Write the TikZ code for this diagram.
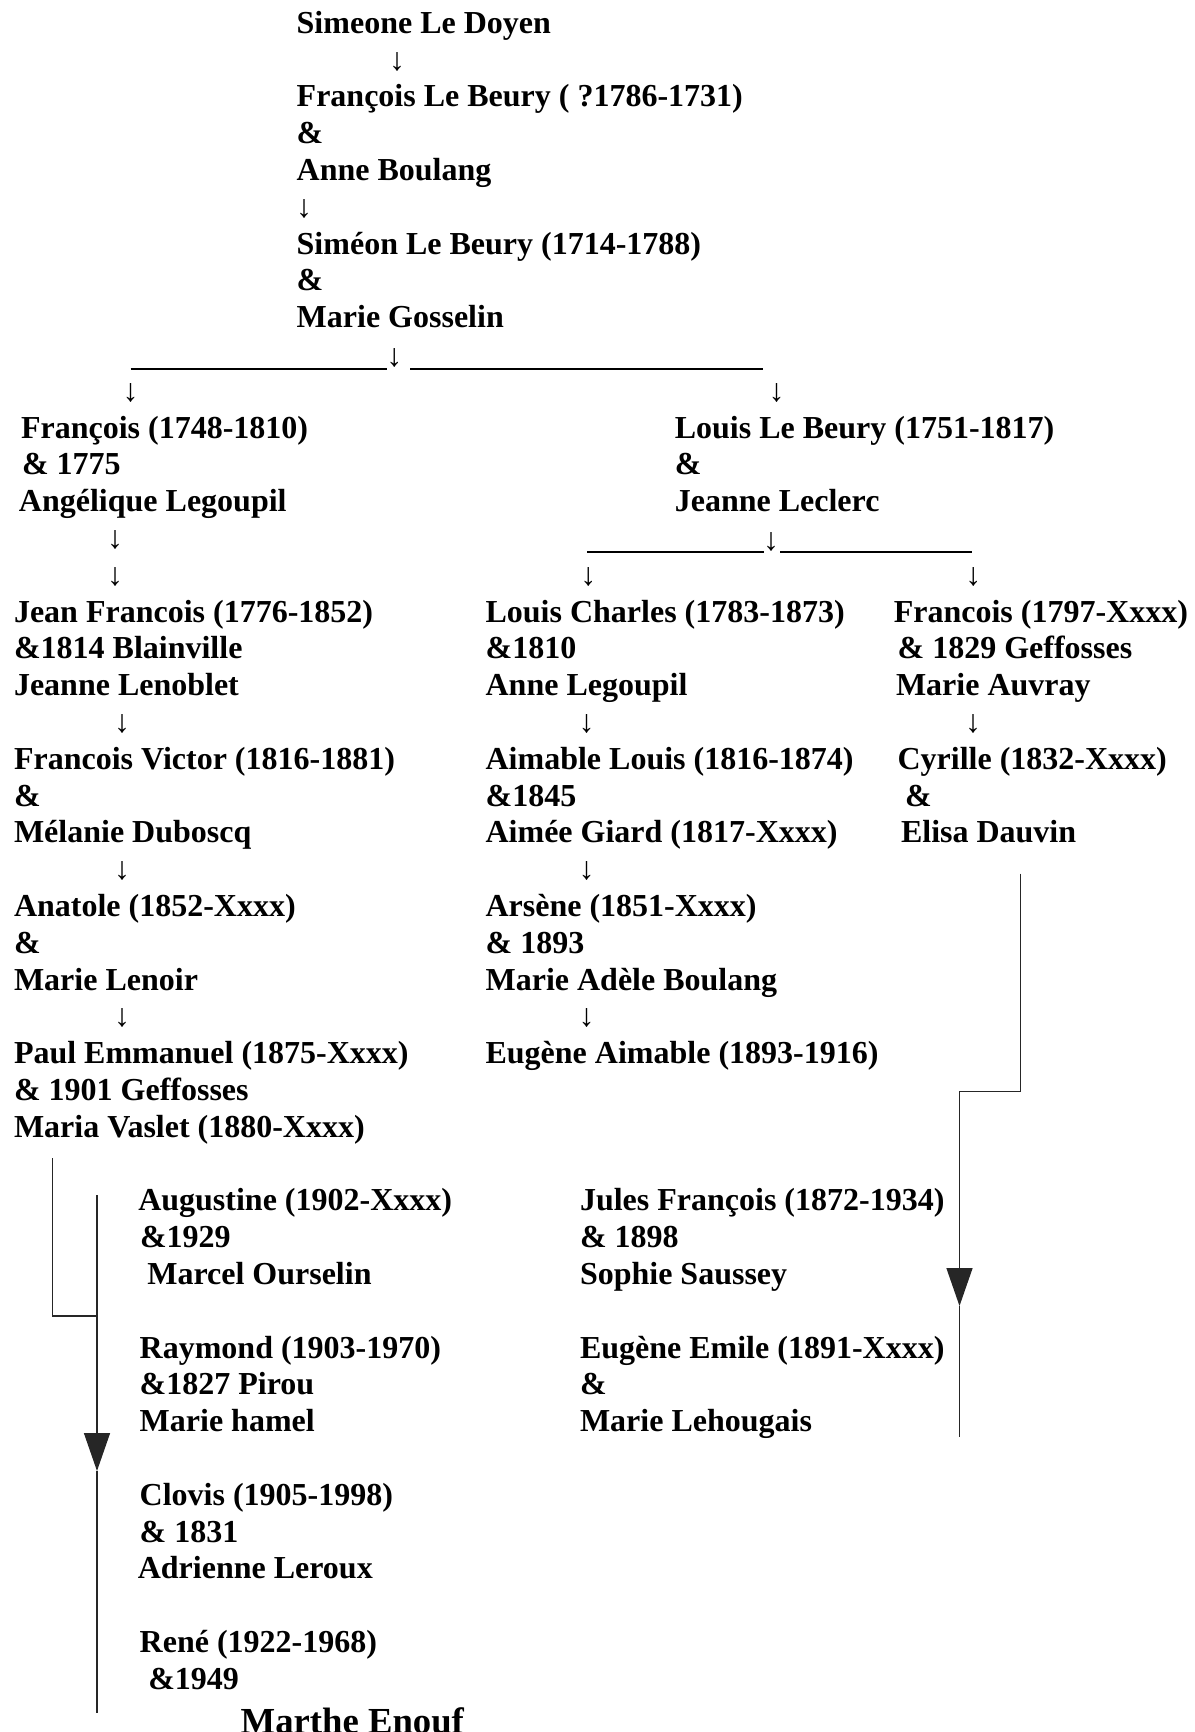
\documentclass[tikz,border=0pt]{standalone}
\usepackage{fontspec}
\setmainfont{Liberation Serif}
\usetikzlibrary{arrows.meta}
\tikzset{
  txt/.style={anchor=base west, inner sep=0pt, outer sep=0pt, font=\fontsize{32}{36.8}\selectfont\bfseries},
  bigtxt/.style={anchor=base west, inner sep=0pt, outer sep=0pt, font=\fontsize{36.7}{42}\selectfont\bfseries},
  darr/.style={anchor=base, inner sep=0pt, outer sep=0pt, font=\fontsize{32}{36.8}\selectfont\bfseries},
  conn/.style={line width=1.4pt, draw=black!85},
  bar/.style={line width=2pt},
  tri/.style={-{Triangle[length=38pt,width=26pt]}}
}
\begin{document}
\begin{tikzpicture}[x=1pt,y=-1pt]
\useasboundingbox (0,0) rectangle (1194,1732);
% ---------- top column ----------
\node[txt] (t0) at (296.7,33.3) {Simeone Le Doyen};
\node[darr] (a1) at (397,70.1) {↓};
\node[txt] (t2) at (296.7,106.9) {François Le Beury ( ?1786-1731)};
\node[txt] (t3) at (296.7,143.7) {\&};
\node[txt] (t4) at (296.7,180.5) {Anne Boulang};
\node[darr] (a5) at (304,217.3) {↓};
\node[txt] (t6) at (296.7,254.1) {Siméon Le Beury (1714-1788)};
\node[txt] (t7) at (296.7,290.9) {\&};
\node[txt] (t8) at (296.7,327.7) {Marie Gosselin};
% branch line 1
\coordinate (b1a) at (130.7,368.5);
\coordinate (b1b) at (386.7,368.5);
\coordinate (b1c) at (410.3,368.5);
\coordinate (b1d) at (763,368.5);
\draw[bar] (b1a) -- (b1b);
\draw[bar] (b1c) -- (b1d);
\node[darr] (a9) at (394.3,366.5) {↓};
\node[darr] (a10l) at (130.7,401.3) {↓};
\node[darr] (a10r) at (776.5,401.3) {↓};
% ---------- left branch ----------
\node[txt] (f11) at (21,438.1) {François (1748-1810)};
\node[txt] (f12) at (22,474.9) {\& 1775};
\node[txt] (f13) at (19,511.7) {Angélique Legoupil};
\node[darr] (a14l) at (115,548.5) {↓};
\node[darr] (a15l) at (115,585.3) {↓};
\node[txt] (j16) at (14,622.1) {Jean Francois (1776-1852)};
\node[txt] (j17) at (14,658.9) {\&1814 Blainville};
\node[txt] (j18) at (14,695.7) {Jeanne Lenoblet};
\node[darr] (a19l) at (122,732.5) {↓};
\node[txt] (v20) at (14,769.3) {Francois Victor (1816-1881)};
\node[txt] (v21) at (14,806.1) {\&};
\node[txt] (v22) at (14,842.9) {Mélanie Duboscq};
\node[darr] (a23l) at (122,879.7) {↓};
\node[txt] (n24) at (14,916.5) {Anatole (1852-Xxxx)};
\node[txt] (n25) at (14,953.3) {\&};
\node[txt] (n26) at (14,990.1) {Marie Lenoir};
\node[darr] (a27l) at (122,1026.9) {↓};
\node[txt] (p28) at (14,1063.7) {Paul Emmanuel (1875-Xxxx)};
\node[txt] (p29) at (14,1100.5) {\& 1901 Geffosses};
\node[txt] (p30) at (14,1137.3) {Maria Vaslet (1880-Xxxx)};
% ---------- right branch ----------
\node[txt] (l11) at (674.8,438.1) {Louis Le Beury (1751-1817)};
\node[txt] (l12) at (674.8,474.9) {\&};
\node[txt] (l13) at (674.8,511.7) {Jeanne Leclerc};
\coordinate (b2a) at (587.3,552.3);
\coordinate (b2b) at (764,552.3);
\coordinate (b2c) at (780,552.3);
\coordinate (b2d) at (971.7,552.3);
\draw[bar] (b2a) -- (b2b);
\draw[bar] (b2c) -- (b2d);
\node[darr] (a14m) at (771,550) {↓};
\node[darr] (a15m) at (588.3,585.3) {↓};
\node[darr] (a15r) at (973.3,585.3) {↓};
% Louis Charles column
\node[txt] (c16) at (485.6,622.1) {Louis Charles (1783-1873)};
\node[txt] (c17) at (485.6,658.9) {\&1810};
\node[txt] (c18) at (485.6,695.7) {Anne Legoupil};
\node[darr] (a19m) at (586.5,732.5) {↓};
\node[txt] (c20) at (485.6,769.3) {Aimable Louis (1816-1874)};
\node[txt] (c21) at (485.6,806.1) {\&1845};
\node[txt] (c22) at (485.6,842.9) {Aimée Giard (1817-Xxxx)};
\node[darr] (a23m) at (586.5,879.7) {↓};
\node[txt] (c24) at (485.6,916.5) {Arsène (1851-Xxxx)};
\node[txt] (c25) at (485.6,953.3) {\& 1893};
\node[txt] (c26) at (485.6,990.1) {Marie Adèle Boulang};
\node[darr] (a27m) at (586.5,1026.9) {↓};
\node[txt] (c28) at (485.6,1063.7) {Eugène Aimable (1893-1916)};
% Francois column
\node[txt] (r16) at (893.8,622.1) {Francois (1797-Xxxx)};
\node[txt] (r17) at (897.6,658.9) {\& 1829 Geffosses};
\node[txt] (r18) at (896,695.7) {Marie Auvray};
\node[darr] (a19r) at (973,732.5) {↓};
\node[txt] (r20) at (897.6,769.3) {Cyrille (1832-Xxxx)};
\node[txt] (r21) at (905,806.1) {\&};
\node[txt] (r22) at (901,842.9) {Elisa Dauvin};
% ---------- bottom left group ----------
\node[txt] (g32) at (138.3,1210.9) {Augustine (1902-Xxxx)};
\node[txt] (g33) at (140,1247.7) {\&1929};
\node[txt] (g34) at (147.3,1284.5) {Marcel Ourselin};
\node[txt] (g36) at (139.7,1358.1) {Raymond (1903-1970)};
\node[txt] (g37) at (139.7,1394.9) {\&1827 Pirou};
\node[txt] (g38) at (139.7,1431.7) {Marie hamel};
\node[txt] (g40) at (139.7,1505.3) {Clovis (1905-1998)};
\node[txt] (g41) at (139.7,1542.1) {\& 1831};
\node[txt] (g42) at (137.8,1578.9) {Adrienne Leroux};
\node[txt] (g44) at (139.7,1652.5) {René (1922-1968)};
\node[txt] (g45) at (148.3,1689.3) {\&1949};
\node[bigtxt] (g46) at (240.7,1733) {Marthe Enouf};
% ---------- bottom right group ----------
\node[txt] (h32) at (580,1210.9) {Jules François (1872-1934)};
\node[txt] (h33) at (580,1247.7) {\& 1898};
\node[txt] (h34) at (580,1284.5) {Sophie Saussey};
\node[txt] (h36) at (580,1358.1) {Eugène Emile (1891-Xxxx)};
\node[txt] (h37) at (580,1394.9) {\&};
\node[txt] (h38) at (580,1431.7) {Marie Lehougais};
% ---------- connectors ----------
\coordinate (l1) at (52.5,1158);
\coordinate (l2) at (52.5,1316);
\coordinate (l3) at (97,1316);
\coordinate (lt) at (97,1195);
\coordinate (la) at (97,1471);
\coordinate (lb) at (97,1713);
\draw[conn] (l1) -- (l2) -- (l3);
\draw[conn,tri] (lt) -- (la);
\draw[conn] (la) -- (lb);
\coordinate (r1) at (1020.6,873.5);
\coordinate (r2) at (1020.6,1091.5);
\coordinate (r3) at (959.5,1091.5);
\coordinate (ra) at (959.5,1306);
\coordinate (rb) at (959.5,1436.5);
\draw[conn,tri] (r1) -- (r2) -- (r3) -- (ra);
\draw[conn] (ra) -- (rb);
\end{tikzpicture}
\end{document}
